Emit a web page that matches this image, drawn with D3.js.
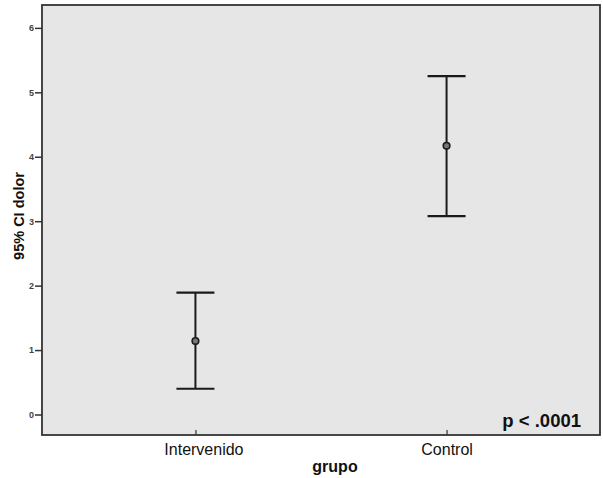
<!DOCTYPE html>
<html><head><meta charset="utf-8">
<script src="https://cdn.jsdelivr.net/npm/d3@7"></script>
<style>body{margin:0;background:#fff}svg{display:block}</style>
</head><body>
<script>
const categories = ["Intervenido", "Control"];
const means = [1.14, 4.17];
const lower = [0.40, 3.08];
const upper = [1.89, 5.25];
const yTicks = [0, 1, 2, 3, 4, 5, 6];
const yLabel = "95% CI dolor";
const xLabel = "grupo";
const note = "p < .0001";

const W = 603, H = 478;
const L = 42, T = 5, R = 600, B = 435;
const FONT = "Arial, Liberation Sans, sans-serif";
const svg = d3.select("body").append("svg").attr("width", W).attr("height", H);

const x = d3.scalePoint().domain(categories).range([L, R]).padding(0.611);
const y = d3.scaleLinear().domain([-0.318, 6.355]).range([B, T]);

svg.append("rect").attr("x", L).attr("y", T).attr("width", R - L).attr("height", B - T)
  .attr("fill", "#e6e6e6");

const data = categories.map((c, i) => ({c, m: means[i], lo: lower[i], hi: upper[i]}));
const g = svg.append("g");
const cap = 19;
data.forEach(d => {
  const cx = x(d.c);
  g.append("line").attr("x1", cx).attr("x2", cx).attr("y1", y(d.hi)).attr("y2", y(d.lo))
    .attr("stroke", "#1a1a1a").attr("stroke-width", 2);
  [d.hi, d.lo].forEach(v => g.append("line").attr("x1", cx - cap).attr("x2", cx + cap)
    .attr("y1", y(v)).attr("y2", y(v)).attr("stroke", "#1a1a1a").attr("stroke-width", 2.2));
  g.append("circle").attr("cx", cx).attr("cy", y(d.m)).attr("r", 3.3)
    .attr("fill", "#777").attr("stroke", "#1a1a1a").attr("stroke-width", 1.6);
});

// frame
svg.append("rect").attr("x", L).attr("y", T).attr("width", R - L).attr("height", B - T)
  .attr("fill", "none").attr("stroke", "#333").attr("stroke-width", 1.8);

// y axis
const ya = svg.append("g").attr("transform", `translate(${L},0)`)
  .call(d3.axisLeft(y).tickValues(yTicks).tickFormat(d3.format("d")).tickSize(7).tickSizeOuter(0));
ya.select(".domain").remove();
ya.selectAll(".tick line").attr("stroke", "#333").attr("stroke-width", 1.5);
ya.selectAll(".tick text").attr("font-family", FONT)
  .attr("font-size", 9).attr("font-weight", "bold").attr("fill", "#444").attr("x", -8);

// x axis
const xa = svg.append("g").attr("transform", `translate(0,${B})`)
  .call(d3.axisBottom(x).tickSize(-5).tickSizeOuter(0));
xa.select(".domain").remove();
xa.selectAll(".tick line").attr("stroke", "#333").attr("stroke-width", 1.2);
xa.selectAll(".tick text").attr("font-family", FONT)
  .attr("font-size", 16).attr("fill", "#111").attr("y", 9)
  .attr("dx", (d, i) => i === 0 ? 8 : 0);

svg.append("text").attr("x", 335).attr("y", 472).attr("text-anchor", "middle")
  .attr("font-family", FONT).attr("font-size", 16)
  .attr("font-weight", "bold").attr("fill", "#111").text(xLabel);

svg.append("text").attr("transform", `translate(24,216) rotate(-90)`)
  .attr("text-anchor", "middle").attr("font-family", FONT)
  .attr("font-size", 14.5).attr("font-weight", "bold").attr("fill", "#111").text(yLabel);

svg.append("text").attr("x", 581).attr("y", 427).attr("text-anchor", "end")
  .attr("font-family", FONT).attr("font-size", 18.5)
  .attr("font-weight", "bold").attr("fill", "#111").text(note);
</script>
</body></html>
